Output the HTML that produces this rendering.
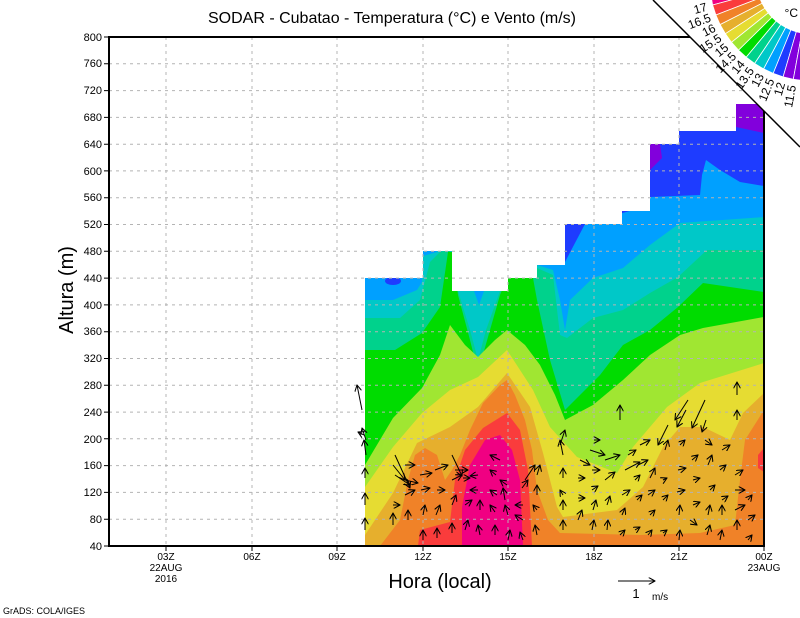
<!DOCTYPE html>
<html><head><meta charset="utf-8"><style>
html,body{margin:0;padding:0;background:#fff;}
svg{display:block;font-family:"Liberation Sans",sans-serif;}
</style></head><body>
<svg width="800" height="618" viewBox="0 0 800 618" xmlns="http://www.w3.org/2000/svg">
<defs>
<clipPath id="dc"><polygon points="365,546 365,278 423,278 423,251 452,251 452,291 508,291 508,278 537,278 537,265 565,265 565,224 622,224 622,211 650,211 650,144 679,144 679,131 736,131 736,104 764,104 764,546"/></clipPath>
<marker id="ah" viewBox="0 0 10 10" refX="9" refY="5" markerWidth="7" markerHeight="7" markerUnits="userSpaceOnUse" orient="auto"><path d="M0,0 L9,5 L0,10" fill="none" stroke="#000" stroke-width="1.5"/></marker>
</defs>
<rect width="800" height="618" fill="#fff"/>
<g clip-path="url(#dc)">
<rect x="360" y="100" width="410" height="450" fill="#1e3cff"/>
<polygon points="736,100 764,100 764,133 750,130 736,127" fill="#8200dc"/>
<polygon points="650,144 660,144 662,158 650,170" fill="#8200dc"/>
<polygon fill="#00a0ff" points="365,100 565,100 565,262 585,224 650,205 650,197 700,195 702,175 706,160 720,170 740,182 764,186 764,546 365,546"/>
<ellipse cx="393" cy="281" rx="8" ry="4" fill="#1e3cff"/>
<polygon fill="#00c8c8" points="365,300 393,300 417,290 422,282 423,256 437,252 437,100 537,100 537,265 553,270 560,300 565,330 570,300 593,278 623,268 650,245 680,223 764,217 764,546 365,546"/>
<polygon fill="#00d28c" points="365,318 400,318 420,300 430,262 440,252 450,250 458,291 470,330 478,360 486,330 500,291 508,285 537,268 553,275 560,335 567,338 593,318 623,310 650,293 678,277 707,250 764,250 764,546 365,546"/>
<polygon fill="#00c8c8" points="462,291 495,291 478,340"/>
<polygon fill="#00a0ff" points="474,291 484,291 479,305"/>
<polygon fill="#00dc00" points="365,350 395,350 422,333 440,307 448,252 452,252 458,295 470,340 478,372 490,330 500,295 507,278 533,278 537,300 550,360 565,410 580,395 600,375 623,345 650,330 678,307 703,283 764,292 764,546 365,546"/>
<polygon fill="#a0e632" points="365,465 393,418 422,388 440,355 450,325 465,345 478,357 495,340 507,330 525,345 540,365 555,395 565,420 593,405 623,380 650,355 680,335 703,328 764,317 764,546 365,546"/>
<polygon fill="#e6dc32" points="365,487 393,447 422,413 450,390 478,377 507,350 533,390 550,427 577,457 617,473 633,447 667,407 700,383 764,363 764,546 365,546"/>
<polygon fill="#e6af2d" points="365,535 393,493 417,443 450,427 478,407 507,373 530,407 543,453 557,507 563,517 617,510 643,487 663,447 680,427 703,427 730,440 743,413 764,393 764,546 365,546"/>
<polygon fill="#f08228" points="380,546 400,520 408,480 415,455 425,448 437,455 445,480 452,470 460,455 470,430 483,403 500,385 507,380 515,395 525,420 532,450 537,490 548,520 560,533 640,535 700,533 735,525 740,480 745,440 764,410 764,546"/>
<polygon fill="#fa3c3c" points="418,546 420,530 450,522 455,480 465,450 483,428 507,413 520,430 528,470 532,546"/>
<polygon fill="#fa3c3c" points="764,448 758,455 758,468 764,472"/>
<polygon fill="#f00082" points="462,546 462,507 470,465 485,440 500,435 512,450 520,480 523,546"/>
</g>
<g stroke="#b4b4b4" stroke-width="1" stroke-dasharray="3,4" fill="none">
<path d="M166,37V546M252,37V546M337,37V546M423,37V546M508,37V546M594,37V546M679,37V546"/>
<path d="M109,519.2H764M109,492.4H764M109,465.6H764M109,438.8H764M109,412.1H764M109,385.3H764M109,358.5H764M109,331.7H764M109,304.9H764M109,278.1H764M109,251.3H764M109,224.5H764M109,197.7H764M109,170.9H764M109,144.2H764M109,117.4H764M109,90.6H764M109,63.8H764"/>
</g>
<g stroke="#000" stroke-width="1" fill="none" marker-end="url(#ah)">
<path d="M365,530L365,518"/><path d="M365,505L365,493"/><path d="M365,478L365,468"/><path d="M366,455L364,440"/><path d="M366,440L362,428"/><path d="M362,410L357,385"/><path d="M364,435L358,432"/>
<path d="M393,525L393,513"/><path d="M395,455L410,488"/><path d="M393,465L405,480"/><path d="M395,475L410,485"/><path d="M393,505L400,505"/>
<path d="M408,520L408,510"/><path d="M405,495L415,490"/><path d="M405,480L418,483"/><path d="M405,465L415,465"/>
<path d="M423,540L423,530"/><path d="M423,515L425,505"/><path d="M421,490L430,488"/><path d="M420,475L432,473"/>
<path d="M437,538L437,528"/><path d="M436,515L440,505"/><path d="M437,490L445,490"/><path d="M435,470L448,465"/><path d="M452,455L462,476"/>
<path d="M452,533L452,523"/><path d="M452,505L456,495"/><path d="M452,480L462,475"/><path d="M455,470L468,470"/>
<path d="M465,530L468,520"/><path d="M465,505L472,500"/><path d="M463,478L470,478"/>
<path d="M480,535L478,525"/><path d="M480,510L480,500"/><path d="M478,490L470,490"/><path d="M478,475L470,476"/>
<path d="M495,535L495,525"/><path d="M495,512L490,505"/><path d="M497,495L490,490"/><path d="M496,475L490,470"/><path d="M500,460L490,455"/>
<path d="M508,540L510,530"/><path d="M508,515L505,505"/><path d="M505,500L503,488"/><path d="M507,485L500,480"/>
<path d="M523,540L520,532"/><path d="M523,520L515,515"/><path d="M523,505L515,505"/><path d="M522,488L528,480"/><path d="M525,480L535,465"/>
<path d="M537,535L535,525"/><path d="M537,510L533,505"/><path d="M537,495L537,485"/><path d="M537,475L540,465"/>
<path d="M563,530L563,520"/><path d="M563,510L563,500"/><path d="M563,495L560,490"/><path d="M563,478L563,468"/><path d="M563,455L560,440"/><path d="M560,445L565,430"/>
<path d="M578,520L582,510"/><path d="M578,498L585,498"/><path d="M578,478L585,478"/><path d="M580,460L590,465"/>
<path d="M592,530L594,520"/><path d="M593,510L596,500"/><path d="M592,490L598,486"/><path d="M592,470L600,470"/><path d="M590,450L605,455"/><path d="M594,440L600,440"/>
<path d="M607,530L608,520"/><path d="M607,505L610,496"/><path d="M605,480L615,472"/><path d="M605,460L620,455"/><path d="M620,420L620,405"/>
<path d="M620,535L625,530"/><path d="M622,515L625,508"/><path d="M622,495L630,490"/><path d="M625,470L640,462"/><path d="M628,455L636,450"/>
<path d="M635,530L640,527"/><path d="M637,500L642,495"/><path d="M635,480L640,475"/><path d="M638,465L648,460"/><path d="M640,445L650,440"/>
<path d="M648,535L652,530"/><path d="M650,515L655,510"/><path d="M648,495L655,490"/><path d="M650,478L655,468"/>
<path d="M663,533L667,530"/><path d="M663,500L668,495"/><path d="M663,480L667,478"/><path d="M665,450L668,440"/><path d="M668,425L658,445"/>
<path d="M679,540L680,530"/><path d="M679,515L680,505"/><path d="M677,492L685,490"/><path d="M678,470L686,468"/><path d="M680,445L685,440"/><path d="M688,400L675,420"/><path d="M686,410L677,427"/>
<path d="M690,520L697,525"/><path d="M693,505L700,502"/><path d="M693,480L700,478"/><path d="M692,460L698,455"/><path d="M705,400L692,428"/>
<path d="M707,535L710,525"/><path d="M708,515L710,505"/><path d="M710,490L715,485"/><path d="M708,465L712,455"/><path d="M706,420L702,432"/><path d="M705,440L712,445"/>
<path d="M720,540L722,530"/><path d="M722,515L722,505"/><path d="M722,500L728,496"/><path d="M720,470L726,465"/><path d="M722,450L730,445"/>
<path d="M737,530L737,520"/><path d="M735,510L745,505"/><path d="M735,490L745,490"/><path d="M735,475L743,470"/><path d="M737,420L737,410"/><path d="M737,395L737,382"/>
<path d="M748,540L752,535"/><path d="M748,520L755,515"/><path d="M748,500L752,495"/>
<path d="M618,581L655,581"/>
</g>
<g stroke="#000" fill="none">
<rect x="109" y="37" width="655" height="509" stroke-width="2"/>
<path d="M104,546H109M104,519.2H109M104,492.4H109M104,465.6H109M104,438.8H109M104,412.1H109M104,385.3H109M104,358.5H109M104,331.7H109M104,304.9H109M104,278.1H109M104,251.3H109M104,224.5H109M104,197.7H109M104,170.9H109M104,144.2H109M104,117.4H109M104,90.6H109M104,63.8H109M104,37H109" stroke-width="1"/>
<path d="M166,546V551M252,546V551M337,546V551M423,546V551M508,546V551M594,546V551M679,546V551M764,546V551" stroke-width="1"/>
</g>
<g font-size="11" text-anchor="end" fill="#000">
<text x="102" y="550">40</text><text x="102" y="523">80</text><text x="102" y="496">120</text><text x="102" y="469">160</text><text x="102" y="443">200</text><text x="102" y="416">240</text><text x="102" y="389">280</text><text x="102" y="362">320</text><text x="102" y="335">360</text><text x="102" y="309">400</text><text x="102" y="282">440</text><text x="102" y="255">480</text><text x="102" y="228">520</text><text x="102" y="201">560</text><text x="102" y="175">600</text><text x="102" y="148">640</text><text x="102" y="121">680</text><text x="102" y="94">720</text><text x="102" y="67">760</text><text x="102" y="41">800</text>
</g>
<g font-size="10" text-anchor="middle" fill="#000">
<text x="166" y="560">03Z</text><text x="166" y="571">22AUG</text><text x="166" y="582">2016</text>
<text x="252" y="560">06Z</text><text x="337" y="560">09Z</text><text x="423" y="560">12Z</text><text x="508" y="560">15Z</text><text x="594" y="560">18Z</text><text x="679" y="560">21Z</text><text x="764" y="560">00Z</text><text x="764" y="571">23AUG</text>
</g>
<text x="392" y="23" font-size="16" text-anchor="middle">SODAR - Cubatao - Temperatura (°C) e Vento (m/s)</text>
<text x="440" y="588" font-size="20" text-anchor="middle">Hora (local)</text>
<text transform="translate(73,290) rotate(-90)" font-size="20" text-anchor="middle">Altura (m)</text>
<text x="636" y="598" font-size="13" text-anchor="middle">1</text>
<text x="652" y="600" font-size="10">m/s</text>
<text x="3" y="614" font-size="9">GrADS: COLA/IGES</text>
<polygon points="653,0 800,0 800,147" fill="#fff"/>
<line x1="653" y1="0" x2="800" y2="147" stroke="#000" stroke-width="1.5"/>
<g stroke="#fff" stroke-width="0.8">
<polygon fill="#f00082" points="709.2,-14.8 712.6,5.0 758.0,-7.3 756.1,-18.1"/>
<polygon fill="#fa3c3c" points="712.6,5.0 715.9,15.0 759.7,-1.9 758.0,-7.3"/>
<polygon fill="#f08228" points="715.9,15.0 720.1,24.6 762.1,3.3 759.7,-1.9"/>
<polygon fill="#e6af2d" points="720.1,24.6 725.4,33.7 764.9,8.3 762.1,3.3"/>
<polygon fill="#e6dc32" points="725.4,33.7 731.5,42.3 768.2,12.9 764.9,8.3"/>
<polygon fill="#a0e632" points="731.5,42.3 738.5,50.2 772.0,17.2 768.2,12.9"/>
<polygon fill="#00dc00" points="738.5,50.2 746.2,57.2 776.2,21.1 772.0,17.2"/>
<polygon fill="#00d28c" points="746.2,57.2 754.6,63.5 780.8,24.5 776.2,21.1"/>
<polygon fill="#00c8c8" points="754.6,63.5 763.6,68.9 785.7,27.4 780.8,24.5"/>
<polygon fill="#00a0ff" points="763.6,68.9 773.2,73.4 790.9,29.9 785.7,27.4"/>
<polygon fill="#1e3cff" points="773.2,73.4 783.1,76.9 796.3,31.7 790.9,29.9"/>
<polygon fill="#8200dc" points="783.1,76.9 793.3,79.3 801.8,33.1 796.3,31.7"/>
<polygon fill="#8200dc" points="793.3,79.3 804.8,80.8 808.1,33.9 801.8,33.1"/>
</g>
<g font-size="12" fill="#000" text-anchor="end">
<text transform="translate(706.8,6.6) rotate(-15.2)" dy="4">17</text>
<text transform="translate(710.3,17.2) rotate(-21)" dy="4">16.5</text>
<text transform="translate(714.8,27.3) rotate(-27)" dy="4">16</text>
<text transform="translate(720.3,37.0) rotate(-33)" dy="4">15.5</text>
<text transform="translate(726.8,46.0) rotate(-38.6)" dy="4">15</text>
<text transform="translate(734.2,54.4) rotate(-44.5)" dy="4">14.5</text>
<text transform="translate(742.4,61.9) rotate(-50.3)" dy="4">14</text>
<text transform="translate(751.3,68.5) rotate(-56)" dy="4">13.5</text>
<text transform="translate(760.8,74.2) rotate(-62)" dy="4">13</text>
<text transform="translate(770.9,79.0) rotate(-68)" dy="4">12.5</text>
<text transform="translate(781.4,82.6) rotate(-73.7)" dy="4">12</text>
<text transform="translate(792.2,85.2) rotate(-79.5)" dy="4">11.5</text>
</g>
<text x="798" y="17" text-anchor="end" font-size="12">°C</text>
</svg>
</body></html>
